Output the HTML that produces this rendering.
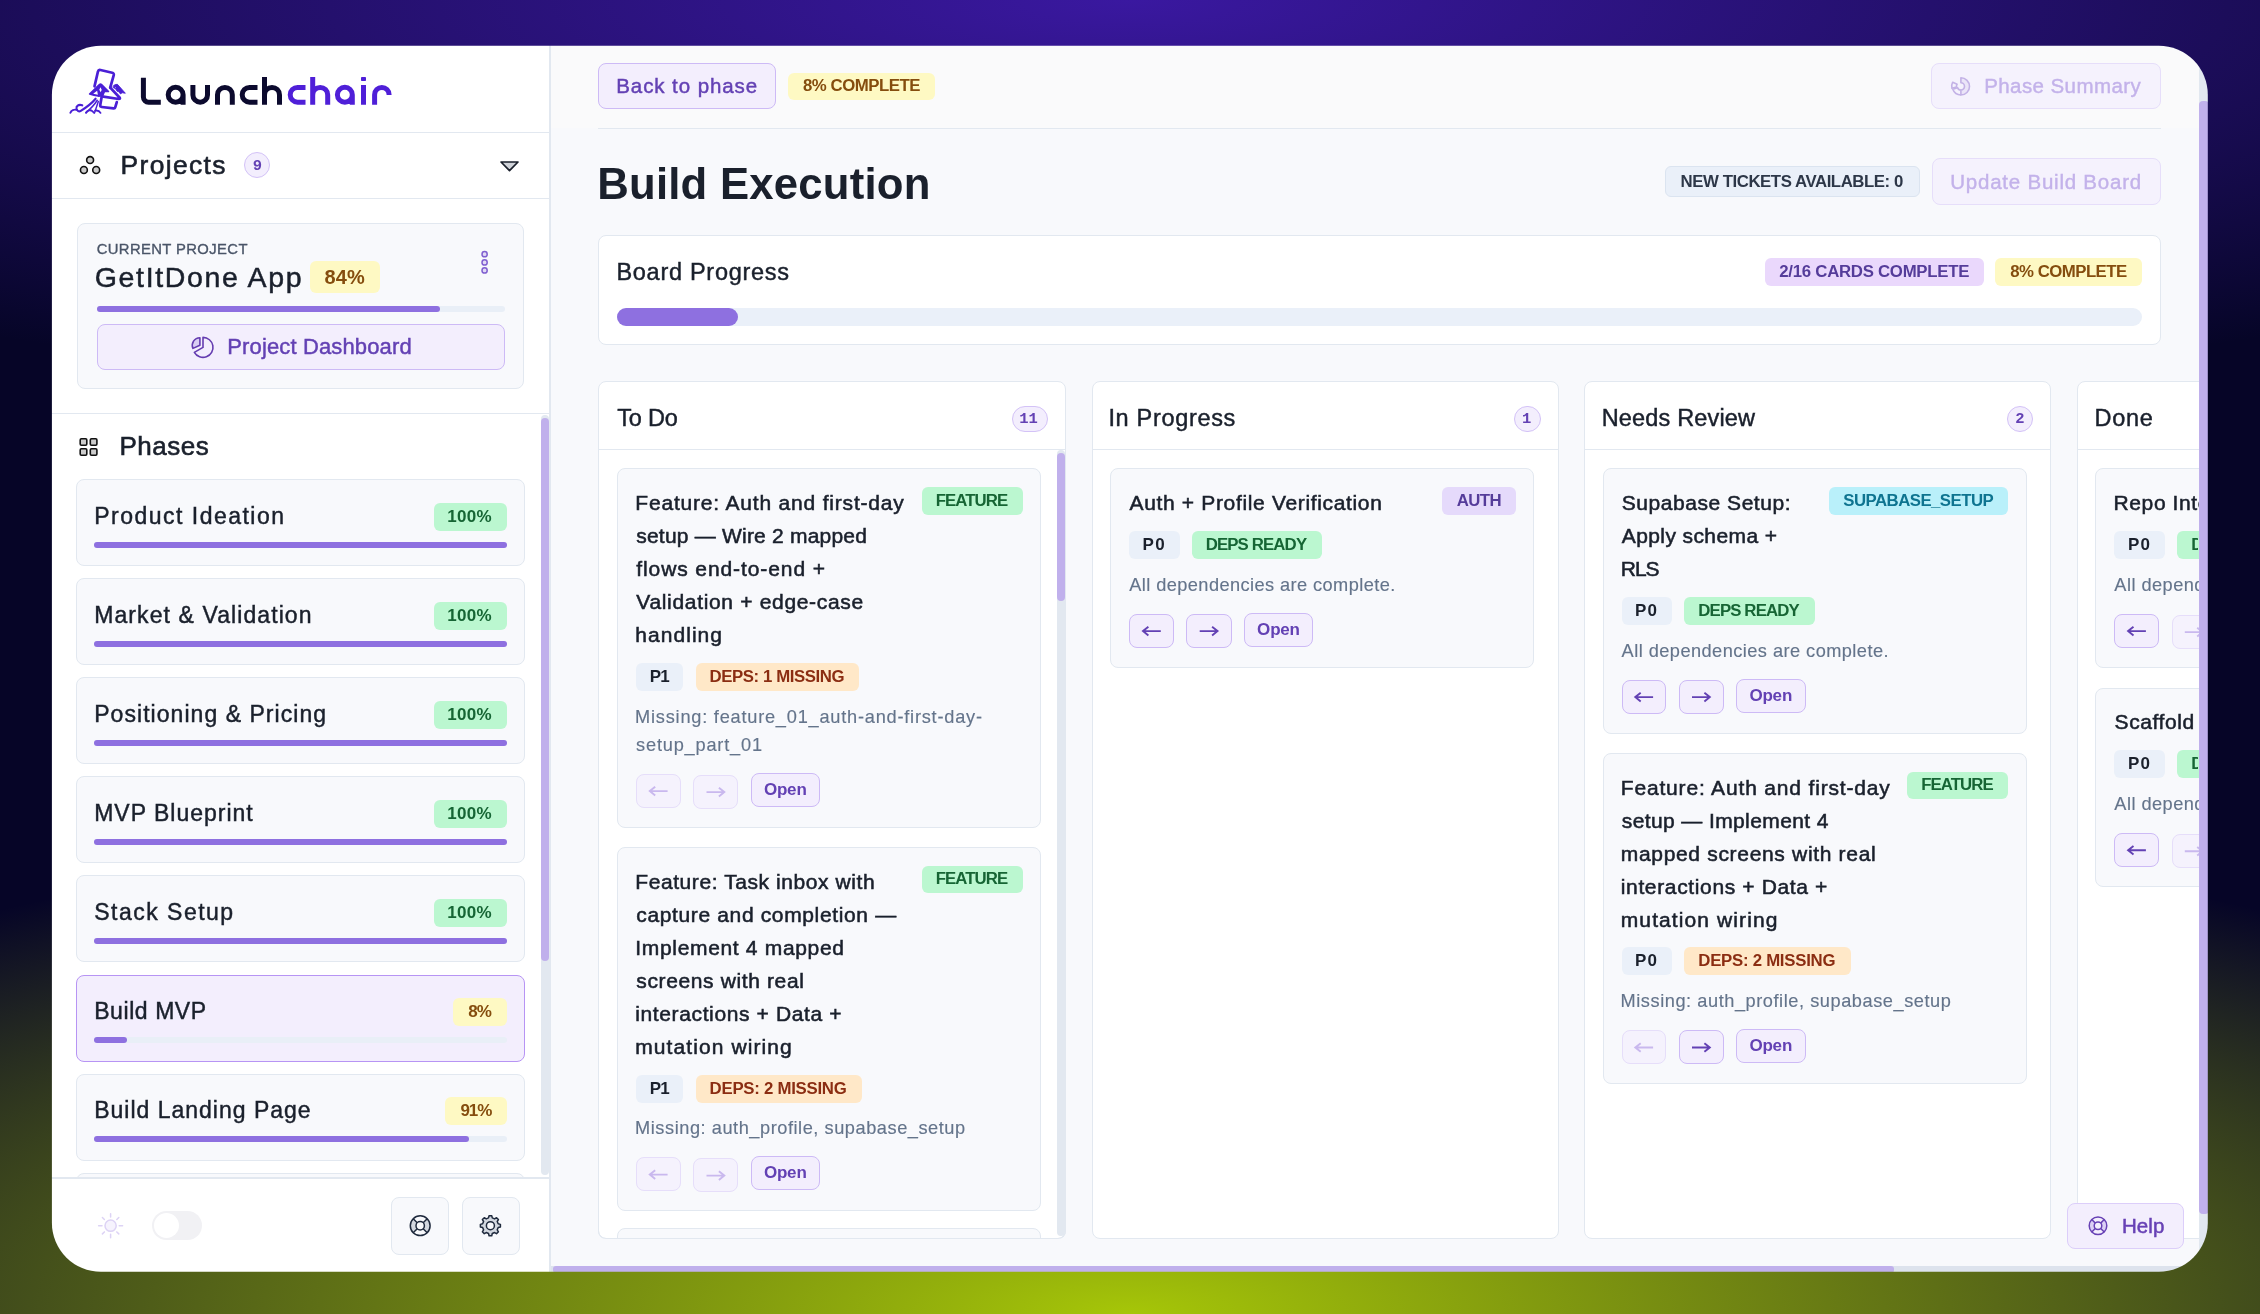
<!DOCTYPE html>
<html lang="en"><head><meta charset="utf-8"><title>Launchchair - Build Execution</title>
<style>
html,body{margin:0;padding:0;width:2260px;height:1314px;overflow:hidden}
body{position:relative;font-family:"Liberation Sans",sans-serif;background:
 radial-gradient(ellipse 1900px 420px at 50% 0%, #3a18a0 0%, rgba(58,24,160,0) 100%),
 radial-gradient(ellipse 1800px 520px at 50% 100%, #a6c608 0%, rgba(166,198,8,0) 100%),
 #060527;}
#win{will-change:transform;position:absolute;left:0;top:0;width:2260px;height:1314px;clip-path:inset(45.7px 52.2px 42.2px 51.9px round 49px);}
.b{position:absolute;box-sizing:border-box}
.t{position:absolute;white-space:nowrap;display:block}
.m{font-family:"Liberation Mono",monospace}
svg{position:absolute;overflow:visible}
</style></head><body><div id="win">
<div class="b" style="left:51.0px;top:45.0px;width:498.2px;height:1228.0px;background:#ffffff;"></div>
<div class="b" style="left:549.2px;top:45.0px;width:1.4px;height:1228.0px;background:#e2e8f0;"></div>
<div class="b" style="left:550.6px;top:45.0px;width:1658.4px;height:1228.0px;background:#f8f9fc;"></div>
<div class="b" style="left:550.6px;top:45.0px;width:1658.4px;height:82.5px;background:#fafafb;"></div>
<div class="b" style="left:51.0px;top:131.6px;width:498.2px;height:1.3px;background:#e2e8f0;"></div>
<div class="b" style="left:51.0px;top:197.9px;width:498.2px;height:1.3px;background:#e2e8f0;"></div>
<div class="b" style="left:51.0px;top:413.2px;width:498.2px;height:1.3px;background:#e2e8f0;"></div>
<div class="b" style="left:244.3px;top:152.4px;width:26.0px;height:26.0px;background:#f3eefd;border:1.3px solid #d3c2f7;border-radius:13px;"></div>
<div class="b" style="left:77.3px;top:223.4px;width:446.7px;height:165.9px;background:#f8f9fc;border:1.3px solid #e2e8f0;border-radius:8px;"></div>
<div class="b" style="left:309.5px;top:261.0px;width:70.2px;height:32.3px;background:#fef9c3;border-radius:6px;"></div>
<div class="b" style="left:96.5px;top:306.3px;width:408.5px;height:5.9px;background:#e9eff7;border-radius:3px;"></div>
<div class="b" style="left:96.5px;top:306.3px;width:343.5px;height:5.9px;background:#8e70e0;border-radius:3px;"></div>
<div class="b" style="left:96.5px;top:324.2px;width:408.5px;height:46.3px;background:#f3eefd;border:1.5px solid #cdbaf6;border-radius:8px;"></div>
<div class="b" style="left:76.0px;top:479.2px;width:449.3px;height:87.0px;background:#f8f9fc;border:1.3px solid #e2e8f0;border-radius:8px;"></div>
<div class="b" style="left:433.5px;top:503.0px;width:73.5px;height:27.6px;background:#bbf7d0;border-radius:6px;"></div>
<div class="b" style="left:94.3px;top:541.6px;width:412.7px;height:6.0px;background:#e9eff7;border-radius:3px;"></div>
<div class="b" style="left:94.3px;top:541.6px;width:412.7px;height:6.0px;background:#8e70e0;border-radius:3px;"></div>
<div class="b" style="left:76.0px;top:578.2px;width:449.3px;height:87.0px;background:#f8f9fc;border:1.3px solid #e2e8f0;border-radius:8px;"></div>
<div class="b" style="left:433.5px;top:602.0px;width:73.5px;height:27.6px;background:#bbf7d0;border-radius:6px;"></div>
<div class="b" style="left:94.3px;top:640.6px;width:412.7px;height:6.0px;background:#e9eff7;border-radius:3px;"></div>
<div class="b" style="left:94.3px;top:640.6px;width:412.7px;height:6.0px;background:#8e70e0;border-radius:3px;"></div>
<div class="b" style="left:76.0px;top:677.3px;width:449.3px;height:87.0px;background:#f8f9fc;border:1.3px solid #e2e8f0;border-radius:8px;"></div>
<div class="b" style="left:433.5px;top:701.1px;width:73.5px;height:27.6px;background:#bbf7d0;border-radius:6px;"></div>
<div class="b" style="left:94.3px;top:739.7px;width:412.7px;height:6.0px;background:#e9eff7;border-radius:3px;"></div>
<div class="b" style="left:94.3px;top:739.7px;width:412.7px;height:6.0px;background:#8e70e0;border-radius:3px;"></div>
<div class="b" style="left:76.0px;top:776.3px;width:449.3px;height:87.0px;background:#f8f9fc;border:1.3px solid #e2e8f0;border-radius:8px;"></div>
<div class="b" style="left:433.5px;top:800.1px;width:73.5px;height:27.6px;background:#bbf7d0;border-radius:6px;"></div>
<div class="b" style="left:94.3px;top:838.7px;width:412.7px;height:6.0px;background:#e9eff7;border-radius:3px;"></div>
<div class="b" style="left:94.3px;top:838.7px;width:412.7px;height:6.0px;background:#8e70e0;border-radius:3px;"></div>
<div class="b" style="left:76.0px;top:875.4px;width:449.3px;height:87.0px;background:#f8f9fc;border:1.3px solid #e2e8f0;border-radius:8px;"></div>
<div class="b" style="left:433.5px;top:899.2px;width:73.5px;height:27.6px;background:#bbf7d0;border-radius:6px;"></div>
<div class="b" style="left:94.3px;top:937.8px;width:412.7px;height:6.0px;background:#e9eff7;border-radius:3px;"></div>
<div class="b" style="left:94.3px;top:937.8px;width:412.7px;height:6.0px;background:#8e70e0;border-radius:3px;"></div>
<div class="b" style="left:76.0px;top:974.5px;width:449.3px;height:87.0px;background:#f3eefd;border:1.6px solid #b794f4;border-radius:8px;"></div>
<div class="b" style="left:453.4px;top:998.2px;width:53.6px;height:27.6px;background:#fef9c3;border-radius:6px;"></div>
<div class="b" style="left:94.3px;top:1036.9px;width:412.7px;height:6.0px;background:#e9eff7;border-radius:3px;"></div>
<div class="b" style="left:94.3px;top:1036.9px;width:33.2px;height:6.0px;background:#8e70e0;border-radius:3px;"></div>
<div class="b" style="left:76.0px;top:1073.5px;width:449.3px;height:87.0px;background:#f8f9fc;border:1.3px solid #e2e8f0;border-radius:8px;"></div>
<div class="b" style="left:445.4px;top:1097.3px;width:61.6px;height:27.6px;background:#fef9c3;border-radius:6px;"></div>
<div class="b" style="left:94.3px;top:1135.9px;width:412.7px;height:6.0px;background:#e9eff7;border-radius:3px;"></div>
<div class="b" style="left:94.3px;top:1135.9px;width:374.5px;height:6.0px;background:#8e70e0;border-radius:3px;"></div>
<div class="b" style="left:76.0px;top:1172.6px;width:449.3px;height:87.4px;background:#f8f9fc;border:1.3px solid #e2e8f0;border-radius:8px;"></div>
<div class="b" style="left:540.5px;top:414.5px;width:8.4px;height:760.0px;background:#e2e8f0;border-radius:4px;"></div>
<div class="b" style="left:540.5px;top:418.2px;width:8.4px;height:543.3px;background:#c0b0ec;border-radius:4px;"></div>
<div class="b" style="left:51.0px;top:1177.4px;width:498.2px;height:95.6px;background:#ffffff;"></div>
<div class="b" style="left:51.0px;top:1177.4px;width:498.2px;height:1.3px;background:#e2e8f0;"></div>
<div class="b" style="left:151.8px;top:1211.0px;width:49.8px;height:29.4px;background:#f1f1f4;border-radius:15px;"></div>
<div class="b" style="left:154.4px;top:1213.4px;width:24.4px;height:24.4px;background:#ffffff;border-radius:13px;"></div>
<div class="b" style="left:391.2px;top:1196.8px;width:57.8px;height:57.9px;background:#f8f9fc;border:1.3px solid #e2e8f0;border-radius:8px;"></div>
<div class="b" style="left:461.5px;top:1196.8px;width:58.2px;height:57.9px;background:#f8f9fc;border:1.3px solid #e2e8f0;border-radius:8px;"></div>
<div class="b" style="left:598.2px;top:63.3px;width:178.1px;height:46.0px;background:#f3eefd;border:1.5px solid #cdbaf6;border-radius:8px;"></div>
<div class="b" style="left:788.0px;top:72.6px;width:147.0px;height:27.4px;background:#fef9c3;border-radius:6px;"></div>
<div class="b" style="left:1930.5px;top:63.3px;width:230.4px;height:46.2px;background:#f5f2fd;border:1.5px solid #e6defa;border-radius:8px;"></div>
<div class="b" style="left:598.2px;top:127.5px;width:1562.8px;height:1.3px;background:#e2e8f0;"></div>
<div class="b" style="left:1665.0px;top:166.2px;width:254.7px;height:30.6px;background:#eaf0f9;border:1.3px solid #dbe4f0;border-radius:6px;"></div>
<div class="b" style="left:1931.8px;top:158.3px;width:229.2px;height:46.4px;background:#f5f2fd;border:1.5px solid #e6defa;border-radius:8px;"></div>
<div class="b" style="left:598.2px;top:234.8px;width:1562.7px;height:109.8px;background:#ffffff;border:1.3px solid #e2e8f0;border-radius:8px;"></div>
<div class="b" style="left:1765.2px;top:257.9px;width:218.7px;height:28.1px;background:#ead8fc;border-radius:6px;"></div>
<div class="b" style="left:1995.4px;top:257.9px;width:146.8px;height:28.1px;background:#fef9c3;border-radius:6px;"></div>
<div class="b" style="left:616.5px;top:308.4px;width:1525.2px;height:17.6px;background:#eaf0f9;border-radius:9px;"></div>
<div class="b" style="left:616.5px;top:308.4px;width:121.7px;height:17.6px;background:#8e70e0;border-radius:9px;"></div>
<div class="b" style="left:598.3px;top:381.2px;width:467.7px;height:857.8px;background:#ffffff;border:1.3px solid #e2e8f0;border-radius:8px;"></div>
<div class="b" style="left:598.3px;top:448.5px;width:467.7px;height:1.3px;background:#e2e8f0;"></div>
<div class="b" style="left:1011.5px;top:405.5px;width:36.0px;height:26.1px;background:#f3eefd;border:1.3px solid #d3c2f7;border-radius:13px;"></div>
<div class="b" style="left:1091.5px;top:381.2px;width:467.7px;height:857.8px;background:#ffffff;border:1.3px solid #e2e8f0;border-radius:8px;"></div>
<div class="b" style="left:1091.5px;top:448.5px;width:467.7px;height:1.3px;background:#e2e8f0;"></div>
<div class="b" style="left:1514.4px;top:405.5px;width:26.3px;height:26.1px;background:#f3eefd;border:1.3px solid #d3c2f7;border-radius:13px;"></div>
<div class="b" style="left:1583.8px;top:381.2px;width:467.7px;height:857.8px;background:#ffffff;border:1.3px solid #e2e8f0;border-radius:8px;"></div>
<div class="b" style="left:1583.8px;top:448.5px;width:467.7px;height:1.3px;background:#e2e8f0;"></div>
<div class="b" style="left:2006.7px;top:405.5px;width:26.3px;height:26.1px;background:#f3eefd;border:1.3px solid #d3c2f7;border-radius:13px;"></div>
<div class="b" style="left:2076.6px;top:381.2px;width:467.7px;height:857.8px;background:#ffffff;border:1.3px solid #e2e8f0;border-radius:8px;"></div>
<div class="b" style="left:2076.6px;top:448.5px;width:467.7px;height:1.3px;background:#e2e8f0;"></div>
<div class="b" style="left:2499.5px;top:405.5px;width:26.3px;height:26.1px;background:#f3eefd;border:1.3px solid #d3c2f7;border-radius:13px;"></div>
<div class="b" style="left:617.0px;top:468.4px;width:424.2px;height:359.2px;background:#f8f9fc;border:1.3px solid #e2e8f0;border-radius:8px;"></div>
<div class="b" style="left:921.8px;top:487.2px;width:101.1px;height:27.6px;background:#bbf7d0;border-radius:6px;"></div>
<div class="b" style="left:636.0px;top:663.0px;width:47.4px;height:28.0px;background:#eaf0f9;border-radius:6px;"></div>
<div class="b" style="left:695.6px;top:663.0px;width:163.9px;height:28.0px;background:#ffe8c8;border-radius:6px;"></div>
<div class="b" style="left:636.0px;top:773.5px;width:44.6px;height:34.3px;background:#f5f2fd;border:1.5px solid #e6defa;border-radius:8px;"></div>
<svg style="left:0;top:0" width="2260" height="1314"><path d="M667.6,791.1 H649.8 M655.2,786.8 L649.8,791.1 L655.2,795.4" fill="none" stroke="#c9b8ee" stroke-width="1.9" stroke-linejoin="miter" opacity="1.0"/></svg>
<div class="b" style="left:693.2px;top:774.5px;width:45.2px;height:34.3px;background:#f5f2fd;border:1.5px solid #e6defa;border-radius:8px;"></div>
<svg style="left:0;top:0" width="2260" height="1314"><path d="M706.5,792.1 H724.3 M718.9,787.8 L724.3,792.1 L718.9,796.4" fill="none" stroke="#c9b8ee" stroke-width="1.9" stroke-linejoin="miter" opacity="1.0"/></svg>
<div class="b" style="left:750.6px;top:772.5px;width:69.6px;height:34.1px;background:#f3eefd;border:1.5px solid #cdbaf6;border-radius:8px;"></div>
<div class="b" style="left:617.0px;top:846.9px;width:424.2px;height:364.2px;background:#f8f9fc;border:1.3px solid #e2e8f0;border-radius:8px;"></div>
<div class="b" style="left:921.8px;top:865.7px;width:101.1px;height:27.6px;background:#bbf7d0;border-radius:6px;"></div>
<div class="b" style="left:636.0px;top:1074.5px;width:47.4px;height:28.0px;background:#eaf0f9;border-radius:6px;"></div>
<div class="b" style="left:695.6px;top:1074.5px;width:166.0px;height:28.0px;background:#ffe8c8;border-radius:6px;"></div>
<div class="b" style="left:636.0px;top:1157.0px;width:44.6px;height:34.3px;background:#f5f2fd;border:1.5px solid #e6defa;border-radius:8px;"></div>
<svg style="left:0;top:0" width="2260" height="1314"><path d="M667.6,1174.6 H649.8 M655.2,1170.3 L649.8,1174.6 L655.2,1178.9" fill="none" stroke="#c9b8ee" stroke-width="1.9" stroke-linejoin="miter" opacity="1.0"/></svg>
<div class="b" style="left:693.2px;top:1158.0px;width:45.2px;height:34.3px;background:#f5f2fd;border:1.5px solid #e6defa;border-radius:8px;"></div>
<svg style="left:0;top:0" width="2260" height="1314"><path d="M706.5,1175.6 H724.3 M718.9,1171.3 L724.3,1175.6 L718.9,1179.9" fill="none" stroke="#c9b8ee" stroke-width="1.9" stroke-linejoin="miter" opacity="1.0"/></svg>
<div class="b" style="left:750.6px;top:1156.0px;width:69.6px;height:34.1px;background:#f3eefd;border:1.5px solid #cdbaf6;border-radius:8px;"></div>
<div class="b" style="left:617.0px;top:1228.4px;width:424.3px;height:71.6px;background:#f8f9fc;border:1.3px solid #e2e8f0;border-radius:8px;"></div>
<div class="b" style="left:598.3px;top:1237.7px;width:467.7px;height:62.3px;background:#f8f9fc;"></div>
<div class="b" style="left:598.3px;top:1220px;width:467.7px;height:19px;border:1.3px solid #e2e8f0;border-top:none;border-radius:0 0 8px 8px;"></div>
<div class="b" style="left:1056.8px;top:450.0px;width:8.2px;height:786.0px;background:#e2e8f0;border-radius:4px;"></div>
<div class="b" style="left:1056.8px;top:452.9px;width:8.2px;height:147.8px;background:#c0b0ec;border-radius:4px;"></div>
<div class="b" style="left:1110.2px;top:468.4px;width:424.2px;height:199.2px;background:#f8f9fc;border:1.3px solid #e2e8f0;border-radius:8px;"></div>
<div class="b" style="left:1441.9px;top:487.2px;width:74.2px;height:27.6px;background:#e5dafb;border-radius:6px;"></div>
<div class="b" style="left:1129.2px;top:531.0px;width:50.5px;height:28.0px;background:#eaf0f9;border-radius:6px;"></div>
<div class="b" style="left:1191.9px;top:531.0px;width:130.3px;height:28.0px;background:#bbf7d0;border-radius:6px;"></div>
<div class="b" style="left:1129.2px;top:613.5px;width:44.6px;height:34.3px;background:#f3eefd;border:1.5px solid #cdbaf6;border-radius:8px;"></div>
<svg style="left:0;top:0" width="2260" height="1314"><path d="M1160.8,631.1 H1143.0 M1148.4,626.8 L1143.0,631.1 L1148.4,635.4" fill="none" stroke="#6341b4" stroke-width="1.9" stroke-linejoin="miter" opacity="1.0"/></svg>
<div class="b" style="left:1186.4px;top:613.5px;width:45.2px;height:34.3px;background:#f3eefd;border:1.5px solid #cdbaf6;border-radius:8px;"></div>
<svg style="left:0;top:0" width="2260" height="1314"><path d="M1199.7,631.1 H1217.5 M1212.1,626.8 L1217.5,631.1 L1212.1,635.4" fill="none" stroke="#6341b4" stroke-width="1.9" stroke-linejoin="miter" opacity="1.0"/></svg>
<div class="b" style="left:1243.8px;top:612.5px;width:69.6px;height:34.1px;background:#f3eefd;border:1.5px solid #cdbaf6;border-radius:8px;"></div>
<div class="b" style="left:1602.5px;top:468.4px;width:424.2px;height:265.2px;background:#f8f9fc;border:1.3px solid #e2e8f0;border-radius:8px;"></div>
<div class="b" style="left:1828.6px;top:487.2px;width:179.8px;height:27.6px;background:#b9f0fa;border-radius:6px;"></div>
<div class="b" style="left:1621.5px;top:597.0px;width:50.5px;height:28.0px;background:#eaf0f9;border-radius:6px;"></div>
<div class="b" style="left:1684.2px;top:597.0px;width:130.7px;height:28.0px;background:#bbf7d0;border-radius:6px;"></div>
<div class="b" style="left:1621.5px;top:679.5px;width:44.6px;height:34.3px;background:#f3eefd;border:1.5px solid #cdbaf6;border-radius:8px;"></div>
<svg style="left:0;top:0" width="2260" height="1314"><path d="M1653.1,697.1 H1635.3 M1640.7,692.8 L1635.3,697.1 L1640.7,701.4" fill="none" stroke="#6341b4" stroke-width="1.9" stroke-linejoin="miter" opacity="1.0"/></svg>
<div class="b" style="left:1678.7px;top:679.5px;width:45.2px;height:34.3px;background:#f3eefd;border:1.5px solid #cdbaf6;border-radius:8px;"></div>
<svg style="left:0;top:0" width="2260" height="1314"><path d="M1692.0,697.1 H1709.8 M1704.4,692.8 L1709.8,697.1 L1704.4,701.4" fill="none" stroke="#6341b4" stroke-width="1.9" stroke-linejoin="miter" opacity="1.0"/></svg>
<div class="b" style="left:1736.1px;top:678.5px;width:69.6px;height:34.1px;background:#f3eefd;border:1.5px solid #cdbaf6;border-radius:8px;"></div>
<div class="b" style="left:1602.5px;top:752.8px;width:424.2px;height:331.2px;background:#f8f9fc;border:1.3px solid #e2e8f0;border-radius:8px;"></div>
<div class="b" style="left:1907.3px;top:771.6px;width:101.1px;height:27.6px;background:#bbf7d0;border-radius:6px;"></div>
<div class="b" style="left:1621.5px;top:947.4px;width:50.5px;height:28.0px;background:#eaf0f9;border-radius:6px;"></div>
<div class="b" style="left:1684.2px;top:947.4px;width:166.7px;height:28.0px;background:#ffe8c8;border-radius:6px;"></div>
<div class="b" style="left:1621.5px;top:1029.9px;width:44.6px;height:34.3px;background:#f5f2fd;border:1.5px solid #e6defa;border-radius:8px;"></div>
<svg style="left:0;top:0" width="2260" height="1314"><path d="M1653.1,1047.5 H1635.3 M1640.7,1043.2 L1635.3,1047.5 L1640.7,1051.8" fill="none" stroke="#c9b8ee" stroke-width="1.9" stroke-linejoin="miter" opacity="1.0"/></svg>
<div class="b" style="left:1678.7px;top:1029.9px;width:45.2px;height:34.3px;background:#f3eefd;border:1.5px solid #cdbaf6;border-radius:8px;"></div>
<svg style="left:0;top:0" width="2260" height="1314"><path d="M1692.0,1047.5 H1709.8 M1704.4,1043.2 L1709.8,1047.5 L1704.4,1051.8" fill="none" stroke="#6341b4" stroke-width="1.9" stroke-linejoin="miter" opacity="1.0"/></svg>
<div class="b" style="left:1736.1px;top:1028.9px;width:69.6px;height:34.1px;background:#f3eefd;border:1.5px solid #cdbaf6;border-radius:8px;"></div>
<div class="b" style="left:2095.3px;top:468.4px;width:424.2px;height:199.2px;background:#f8f9fc;border:1.3px solid #e2e8f0;border-radius:8px;"></div>
<div class="b" style="left:2114.3px;top:531.0px;width:50.5px;height:28.0px;background:#eaf0f9;border-radius:6px;"></div>
<div class="b" style="left:2177.0px;top:531.0px;width:130.5px;height:28.0px;background:#bbf7d0;border-radius:6px;"></div>
<div class="b" style="left:2114.3px;top:613.5px;width:44.6px;height:34.3px;background:#f3eefd;border:1.5px solid #cdbaf6;border-radius:8px;"></div>
<svg style="left:0;top:0" width="2260" height="1314"><path d="M2145.9,631.1 H2128.1 M2133.5,626.8 L2128.1,631.1 L2133.5,635.4" fill="none" stroke="#6341b4" stroke-width="1.9" stroke-linejoin="miter" opacity="1.0"/></svg>
<div class="b" style="left:2171.5px;top:614.5px;width:45.2px;height:34.3px;background:#f5f2fd;border:1.5px solid #e6defa;border-radius:8px;"></div>
<svg style="left:0;top:0" width="2260" height="1314"><path d="M2184.8,632.1 H2202.6 M2197.2,627.8 L2202.6,632.1 L2197.2,636.4" fill="none" stroke="#c9b8ee" stroke-width="1.9" stroke-linejoin="miter" opacity="1.0"/></svg>
<div class="b" style="left:2228.9px;top:612.5px;width:69.6px;height:34.1px;background:#f3eefd;border:1.5px solid #cdbaf6;border-radius:8px;"></div>
<div class="b" style="left:2095.3px;top:687.6px;width:424.2px;height:199.2px;background:#f8f9fc;border:1.3px solid #e2e8f0;border-radius:8px;"></div>
<div class="b" style="left:2114.3px;top:750.2px;width:50.5px;height:28.0px;background:#eaf0f9;border-radius:6px;"></div>
<div class="b" style="left:2177.0px;top:750.2px;width:130.5px;height:28.0px;background:#bbf7d0;border-radius:6px;"></div>
<div class="b" style="left:2114.3px;top:832.7px;width:44.6px;height:34.3px;background:#f3eefd;border:1.5px solid #cdbaf6;border-radius:8px;"></div>
<svg style="left:0;top:0" width="2260" height="1314"><path d="M2145.9,850.3 H2128.1 M2133.5,846.0 L2128.1,850.3 L2133.5,854.6" fill="none" stroke="#6341b4" stroke-width="1.9" stroke-linejoin="miter" opacity="1.0"/></svg>
<div class="b" style="left:2171.5px;top:833.7px;width:45.2px;height:34.3px;background:#f5f2fd;border:1.5px solid #e6defa;border-radius:8px;"></div>
<svg style="left:0;top:0" width="2260" height="1314"><path d="M2184.8,851.3 H2202.6 M2197.2,847.0 L2202.6,851.3 L2197.2,855.6" fill="none" stroke="#c9b8ee" stroke-width="1.9" stroke-linejoin="miter" opacity="1.0"/></svg>
<div class="b" style="left:2228.9px;top:831.7px;width:69.6px;height:34.1px;background:#f3eefd;border:1.5px solid #cdbaf6;border-radius:8px;"></div>
<div class="b" style="left:2067.4px;top:1202.6px;width:117.0px;height:46.2px;background:#f3eefd;border:1.5px solid #dccefa;border-radius:8px;"></div>
<svg style="left:0;top:0" width="2260" height="1314" viewBox="0 0 2260 1314"><g transform="translate(62,60) scale(0.048721)" fill="none" stroke="#4a1fd6" stroke-linejoin="round" stroke-linecap="round"><path d="M668,540 L738,235 Q748,195 790,205 L1030,262 Q1072,272 1062,312 L990,568" stroke-width="56"/><path d="M990,568 L1185,775 Q1200,800 1165,800 L815,748" stroke-width="56"/><path d="M812,770 L785,925 Q780,960 815,965 L1060,995 Q1085,998 1092,972 L1125,865" stroke-width="56"/><path d="M565,698 L772,498 Q790,485 808,500 L955,648 L875,640 L835,735 L745,742 L655,722 Z" fill="#4a1fd6" stroke-width="30"/><path d="M790,560 L815,610 L795,660 L765,610 Z" fill="#ffffff" stroke="none"/><path d="M640,694 L722,632 L736,712 Z" fill="#ffffff" stroke="none"/><path d="M1062,522 Q1100,492 1138,500 L1300,682 L1235,672 L1200,696 L1168,652 L1132,642 L1098,588 L1052,566 Z" fill="#4a1fd6" stroke-width="18"/><path d="M1082,548 L1102,560 L1092,574 Z" fill="#ffffff" stroke="none"/><path d="M690,795 C610,890 480,985 385,1045 C345,1070 315,1045 300,1000 C285,950 335,905 415,930" stroke-width="44"/><path d="M722,830 C660,930 570,1015 495,1080" stroke-width="34"/><path d="M745,850 C715,940 690,1020 668,1085" stroke-width="30"/><path d="M172,1082 C190,1030 250,1010 300,1022" stroke-width="40"/><path d="M492,1082 C520,1030 590,1018 622,1050 L660,1085 M680,1040 C730,1030 770,1050 790,1085" stroke-width="38"/></g><path d="M143.4,77.8 V97.0 A5.2,5.2 0 0 0 148.6,102.2 H160.8 M168.20,94.8 A7.45,7.45 0 1 1 183.10,94.8 A7.45,7.45 0 1 1 168.20,94.8 Z M183.10,94.8 V104.7 M192.90,84.9 V94.90 A7.3,7.3 0 0 0 207.50,94.90 V84.9 M217.50,104.7 V94.80 A7.4,7.4 0 0 1 232.30,94.80 V104.7 M257.50,87.4 H249.60 A7.4,7.4 0 0 0 249.60,102.2 H257.50 M264.50,77.1 V104.7 M264.50,94.90 A7.5,7.5 0 0 1 279.50,94.90 V104.7" fill="none" stroke="#0c0a2e" stroke-width="5" stroke-linejoin="round"/><path d="M305.50,87.4 H297.60 A7.4,7.4 0 0 0 297.60,102.2 H305.50 M312.70,77.1 V104.7 M312.70,94.90 A7.5,7.5 0 0 1 327.70,94.90 V104.7 M337.40,94.8 A7.45,7.45 0 1 1 352.30,94.8 A7.45,7.45 0 1 1 337.40,94.8 Z M352.30,94.8 V104.7 M363.50,84.9 V104.7 M374.60,104.7 V94.65 A7.25,7.25 0 0 1 389.10,94.65 V95.0" fill="none" stroke="#4f1fd8" stroke-width="5" stroke-linejoin="round"/><rect x="361" y="76.9" width="5" height="4.2" rx="0.8" fill="#4f1fd8"/><circle cx="90.1" cy="160.1" r="3.45" fill="#cccccc" stroke="#111111" stroke-width="1.6"/><circle cx="83.9" cy="170.0" r="3.45" fill="#cccccc" stroke="#111111" stroke-width="1.6"/><circle cx="96.2" cy="170.0" r="3.45" fill="#cccccc" stroke="#111111" stroke-width="1.6"/><path d="M501.0,162.0 H518.0 L509.5,170.6 Z" fill="#d0d3d9" stroke="#1a202c" stroke-width="1.7" stroke-linejoin="round"/><circle cx="484.6" cy="254.2" r="2.6" fill="#e2daf5" stroke="#8060d0" stroke-width="1.5"/><circle cx="484.6" cy="262.4" r="2.6" fill="#e2daf5" stroke="#8060d0" stroke-width="1.5"/><circle cx="484.6" cy="270.4" r="2.6" fill="#e2daf5" stroke="#8060d0" stroke-width="1.5"/><path d="M203.00,347.40 L203.00,337.40 A10.0,10.0 0 1 1 194.34,352.40 Z" fill="none" stroke="#643cb0" stroke-width="1.6" stroke-linejoin="round"/><path d="M199.90,345.30 L192.96,348.39 A7.6,7.6 0 0 1 199.90,337.70 Z" fill="#d9cdf3" stroke="#643cb0" stroke-width="1.6" stroke-linejoin="round"/><rect x="80.2" y="438.8" width="6.6" height="6.4" rx="1.2" fill="#cccccc" stroke="#111111" stroke-width="1.6"/><rect x="90.3" y="438.8" width="6.6" height="6.4" rx="1.2" fill="#cccccc" stroke="#111111" stroke-width="1.6"/><rect x="80.2" y="448.8" width="6.6" height="6.4" rx="1.2" fill="#cccccc" stroke="#111111" stroke-width="1.6"/><rect x="90.3" y="448.8" width="6.6" height="6.4" rx="1.2" fill="#cccccc" stroke="#111111" stroke-width="1.6"/><circle cx="110.6" cy="1225.7" r="5.6" fill="#f6f3fd" stroke="#ddd3f5" stroke-width="1.5"/>
<path d="M119.20,1225.70 L122.60,1225.70 M116.82,1231.92 L118.80,1233.90 M110.60,1234.30 L110.60,1237.70 M104.38,1231.92 L102.40,1233.90 M102.00,1225.70 L98.60,1225.70 M104.38,1219.48 L102.40,1217.50 M110.60,1217.10 L110.60,1213.70 M116.82,1219.48 L118.80,1217.50 " fill="none" stroke="#ddd3f5" stroke-width="1.5" stroke-linecap="round"/><path d="M427.20,1218.70 A9.9,9.9 0 0 1 427.20,1232.70 L423.17,1228.67 A4.2,4.2 0 0 0 423.17,1222.73 Z M413.20,1232.70 A9.9,9.9 0 0 1 413.20,1218.70 L417.23,1222.73 A4.2,4.2 0 0 0 417.23,1228.67 Z" fill="#d3d8e0" stroke="none"/>
<circle cx="420.2" cy="1225.7" r="9.9" fill="none" stroke="#1f2a3d" stroke-width="1.5"/>
<circle cx="420.2" cy="1225.7" r="4.2" fill="none" stroke="#1f2a3d" stroke-width="1.5"/>
<path d="M423.17,1228.67 L427.20,1232.70 M423.17,1222.73 L427.20,1218.70 M417.23,1228.67 L413.20,1232.70 M417.23,1222.73 L413.20,1218.70 " fill="none" stroke="#1f2a3d" stroke-width="1.5"/><path d="M488.53,1217.92 L489.06,1215.69 L491.74,1215.69 L492.27,1217.92 L494.58,1218.88 L496.53,1217.67 L498.43,1219.57 L497.22,1221.52 L498.18,1223.83 L500.41,1224.36 L500.41,1227.04 L498.18,1227.57 L497.22,1229.88 L498.43,1231.83 L496.53,1233.73 L494.58,1232.52 L492.27,1233.48 L491.74,1235.71 L489.06,1235.71 L488.53,1233.48 L486.22,1232.52 L484.27,1233.73 L482.37,1231.83 L483.58,1229.88 L482.62,1227.57 L480.39,1227.04 L480.39,1224.36 L482.62,1223.83 L483.58,1221.52 L482.37,1219.57 L484.27,1217.67 L486.22,1218.88 Z" fill="#d3d8e0" stroke="#1f2a3d" stroke-width="1.5" stroke-linejoin="round"/><circle cx="490.4" cy="1225.7" r="4.0" fill="#f8f9fc" stroke="#1f2a3d" stroke-width="1.5"/><path d="M1960.90,82.80 L1960.90,77.80 A8.6,8.6 0 0 1 1960.90,95.00 L1960.90,90.00 A3.6,3.6 0 0 0 1960.90,82.80 Z" fill="#ebe5f8" stroke="#c3b2e6" stroke-width="1.6" stroke-linejoin="round"/><path d="M1960.90,95.00 A8.6,8.6 0 0 1 1952.82,89.34 L1957.52,87.63 A3.6,3.6 0 0 0 1960.90,90.00" fill="none" stroke="#c3b2e6" stroke-width="1.6" stroke-linejoin="round"/><path d="M1951.90,88.31 A8.6,8.6 0 0 1 1952.70,82.22 L1957.09,84.20 A3.6,3.6 0 0 0 1956.54,87.01 Z" fill="none" stroke="#c3b2e6" stroke-width="1.6" stroke-linejoin="round"/><path d="M2104.22,1219.58 A8.8,8.8 0 0 1 2104.22,1232.02 L2100.69,1228.49 A3.8,3.8 0 0 0 2100.69,1223.11 Z M2091.78,1232.02 A8.8,8.8 0 0 1 2091.78,1219.58 L2095.31,1223.11 A3.8,3.8 0 0 0 2095.31,1228.49 Z" fill="#dcd0f5" stroke="none"/>
<circle cx="2098.0" cy="1225.8" r="8.8" fill="none" stroke="#6741b5" stroke-width="1.5"/>
<circle cx="2098.0" cy="1225.8" r="3.8" fill="none" stroke="#6741b5" stroke-width="1.5"/>
<path d="M2100.69,1228.49 L2104.22,1232.02 M2100.69,1223.11 L2104.22,1219.58 M2095.31,1228.49 L2091.78,1232.02 M2095.31,1223.11 L2091.78,1219.58 " fill="none" stroke="#6741b5" stroke-width="1.5"/></svg>
<div class="b" style="left:2199.3px;top:40.0px;width:9.7px;height:1233.0px;background:#e2e8f0;"></div>
<div class="b" style="left:2199.3px;top:101.3px;width:9.7px;height:1112.7px;background:#c0b0ec;border-radius:4px;"></div>
<div class="b" style="left:550.6px;top:1266.3px;width:1648.7px;height:6.7px;background:#dde3ed;"></div>
<div class="b" style="left:553.4px;top:1266.3px;width:1340.6px;height:6.7px;background:#c0b0ec;border-radius:3px;"></div>
<span class="t" style="left:120.60px;top:148.85px;font-size:26.4px;line-height:32px;font-weight:400;color:#1a202c;letter-spacing:1.350px;-webkit-text-stroke:0.6px #1a202c;">Projects</span>
<span class="t m" style="left:252.80px;top:157.37px;font-size:15.5px;line-height:19px;font-weight:700;color:#6341b4;">9</span>
<span class="t" style="left:96.67px;top:240.37px;font-size:14.8px;line-height:18px;font-weight:400;color:#4a5568;letter-spacing:0.396px;-webkit-text-stroke:0.35px #4a5568;">CURRENT PROJECT</span>
<span class="t" style="left:94.75px;top:259.72px;font-size:28.5px;line-height:34px;font-weight:400;color:#1a202c;letter-spacing:1.657px;-webkit-text-stroke:0.5px #1a202c;">GetItDone App</span>
<span class="t" style="left:324.40px;top:264.87px;font-size:20px;line-height:24px;font-weight:700;color:#854d0e;letter-spacing:0.176px;">84%</span>
<span class="t" style="left:227.22px;top:333.98px;font-size:22px;line-height:26px;font-weight:400;color:#6341b4;letter-spacing:0.142px;-webkit-text-stroke:0.45px #6341b4;">Project Dashboard</span>
<span class="t" style="left:119.50px;top:430.89px;font-size:26.0px;line-height:31px;font-weight:400;color:#1a202c;letter-spacing:0.493px;-webkit-text-stroke:0.6px #1a202c;">Phases</span>
<span class="t" style="left:94.22px;top:502.03px;font-size:23.0px;line-height:28px;font-weight:400;color:#1a202c;letter-spacing:1.488px;-webkit-text-stroke:0.45px #1a202c;">Product Ideation</span>
<span class="t" style="left:447.30px;top:506.91px;font-size:17px;line-height:20px;font-weight:700;color:#166534;letter-spacing:0.244px;">100%</span>
<span class="t" style="left:94.22px;top:601.08px;font-size:23.0px;line-height:28px;font-weight:400;color:#1a202c;letter-spacing:1.089px;-webkit-text-stroke:0.45px #1a202c;">Market &amp; Validation</span>
<span class="t" style="left:447.30px;top:605.96px;font-size:17px;line-height:20px;font-weight:700;color:#166534;letter-spacing:0.244px;">100%</span>
<span class="t" style="left:94.22px;top:700.13px;font-size:23.0px;line-height:28px;font-weight:400;color:#1a202c;letter-spacing:1.044px;-webkit-text-stroke:0.45px #1a202c;">Positioning &amp; Pricing</span>
<span class="t" style="left:447.30px;top:705.01px;font-size:17px;line-height:20px;font-weight:700;color:#166534;letter-spacing:0.244px;">100%</span>
<span class="t" style="left:94.22px;top:799.18px;font-size:23.0px;line-height:28px;font-weight:400;color:#1a202c;letter-spacing:0.996px;-webkit-text-stroke:0.45px #1a202c;">MVP Blueprint</span>
<span class="t" style="left:447.30px;top:804.06px;font-size:17px;line-height:20px;font-weight:700;color:#166534;letter-spacing:0.244px;">100%</span>
<span class="t" style="left:94.22px;top:898.23px;font-size:23.0px;line-height:28px;font-weight:400;color:#1a202c;letter-spacing:1.491px;-webkit-text-stroke:0.45px #1a202c;">Stack Setup</span>
<span class="t" style="left:447.30px;top:903.11px;font-size:17px;line-height:20px;font-weight:700;color:#166534;letter-spacing:0.244px;">100%</span>
<span class="t" style="left:94.22px;top:997.28px;font-size:23.0px;line-height:28px;font-weight:400;color:#1a202c;letter-spacing:0.564px;-webkit-text-stroke:0.45px #1a202c;">Build MVP</span>
<span class="t" style="left:468.20px;top:1002.16px;font-size:17px;line-height:20px;font-weight:700;color:#854d0e;letter-spacing:-1.000px;">8%</span>
<span class="t" style="left:94.22px;top:1096.33px;font-size:23.0px;line-height:28px;font-weight:400;color:#1a202c;letter-spacing:0.991px;-webkit-text-stroke:0.45px #1a202c;">Build Landing Page</span>
<span class="t" style="left:460.40px;top:1101.21px;font-size:17px;line-height:20px;font-weight:700;color:#854d0e;letter-spacing:-1.000px;">91%</span>
<span class="t" style="left:616.23px;top:73.10px;font-size:20.5px;line-height:25px;font-weight:400;color:#6341b4;letter-spacing:0.919px;-webkit-text-stroke:0.45px #6341b4;">Back to phase</span>
<span class="t" style="left:803.00px;top:76.18px;font-size:16.8px;line-height:20px;font-weight:700;color:#854d0e;letter-spacing:-0.466px;">8% COMPLETE</span>
<span class="t" style="left:1984.20px;top:73.10px;font-size:20.5px;line-height:25px;font-weight:400;color:#c3b2ea;letter-spacing:0.418px;-webkit-text-stroke:0.4px #c3b2ea;">Phase Summary</span>
<span class="t" style="left:597.20px;top:158.16px;font-size:43.7px;line-height:52px;font-weight:700;color:#1a202c;letter-spacing:0.226px;">Build Execution</span>
<span class="t" style="left:1680.60px;top:171.78px;font-size:16.8px;line-height:20px;font-weight:700;color:#2d3748;letter-spacing:-0.436px;">NEW TICKETS AVAILABLE: 0</span>
<span class="t" style="left:1950.20px;top:168.60px;font-size:20.5px;line-height:25px;font-weight:400;color:#c3b2ea;letter-spacing:0.777px;-webkit-text-stroke:0.4px #c3b2ea;">Update Build Board</span>
<span class="t" style="left:616.43px;top:257.86px;font-size:23.5px;line-height:28px;font-weight:400;color:#1a202c;letter-spacing:0.717px;-webkit-text-stroke:0.45px #1a202c;">Board Progress</span>
<span class="t" style="left:1779.30px;top:261.78px;font-size:16.8px;line-height:20px;font-weight:700;color:#553c9a;letter-spacing:-0.267px;">2/16 CARDS COMPLETE</span>
<span class="t" style="left:2010.30px;top:261.78px;font-size:16.8px;line-height:20px;font-weight:700;color:#854d0e;letter-spacing:-0.526px;">8% COMPLETE</span>
<span class="t" style="left:617.23px;top:403.76px;font-size:23.5px;line-height:28px;font-weight:400;color:#1a202c;letter-spacing:-0.193px;-webkit-text-stroke:0.45px #1a202c;">To Do</span>
<span class="t m" style="left:1019.30px;top:410.37px;font-size:15.5px;line-height:19px;font-weight:700;color:#6341b4;">11</span>
<span class="t" style="left:1108.42px;top:403.76px;font-size:23.5px;line-height:28px;font-weight:400;color:#1a202c;letter-spacing:0.673px;-webkit-text-stroke:0.45px #1a202c;">In Progress</span>
<span class="t m" style="left:1521.95px;top:410.37px;font-size:15.5px;line-height:19px;font-weight:700;color:#6341b4;">1</span>
<span class="t" style="left:1601.72px;top:403.76px;font-size:23.5px;line-height:28px;font-weight:400;color:#1a202c;letter-spacing:0.164px;-webkit-text-stroke:0.45px #1a202c;">Needs Review</span>
<span class="t m" style="left:2015.25px;top:410.37px;font-size:15.5px;line-height:19px;font-weight:700;color:#6341b4;">2</span>
<span class="t" style="left:2094.52px;top:403.76px;font-size:23.5px;line-height:28px;font-weight:400;color:#1a202c;letter-spacing:0.677px;-webkit-text-stroke:0.45px #1a202c;">Done</span>
<span class="t m" style="left:2508.05px;top:410.37px;font-size:15.5px;line-height:19px;font-weight:700;color:#6341b4;">8</span>
<span class="t" style="left:635.27px;top:490.22px;font-size:21px;line-height:25px;font-weight:400;color:#1a202c;letter-spacing:0.811px;-webkit-text-stroke:0.55px #1a202c;">Feature: Auth and first-day</span>
<span class="t" style="left:636.27px;top:523.22px;font-size:21px;line-height:25px;font-weight:400;color:#1a202c;letter-spacing:0.210px;-webkit-text-stroke:0.55px #1a202c;">setup — Wire 2 mapped</span>
<span class="t" style="left:636.27px;top:556.22px;font-size:21px;line-height:25px;font-weight:400;color:#1a202c;letter-spacing:0.903px;-webkit-text-stroke:0.55px #1a202c;">flows end-to-end +</span>
<span class="t" style="left:636.27px;top:589.22px;font-size:21px;line-height:25px;font-weight:400;color:#1a202c;letter-spacing:0.678px;-webkit-text-stroke:0.55px #1a202c;">Validation + edge-case</span>
<span class="t" style="left:635.27px;top:622.22px;font-size:21px;line-height:25px;font-weight:400;color:#1a202c;letter-spacing:1.046px;-webkit-text-stroke:0.55px #1a202c;">handling</span>
<span class="t" style="left:935.70px;top:490.78px;font-size:16.8px;line-height:20px;font-weight:700;color:#166534;letter-spacing:-0.918px;">FEATURE</span>
<span class="t" style="left:649.80px;top:667.01px;font-size:17px;line-height:20px;font-weight:700;color:#1a202c;letter-spacing:-1.000px;">P1</span>
<span class="t" style="left:709.60px;top:667.08px;font-size:16.8px;line-height:20px;font-weight:700;color:#8b2d12;letter-spacing:-0.426px;">DEPS: 1 MISSING</span>
<span class="t" style="left:635.08px;top:705.69px;font-size:18.2px;line-height:22px;font-weight:400;color:#64748b;letter-spacing:0.776px;-webkit-text-stroke:0.15px #64748b;">Missing: feature_01_auth-and-first-day-</span>
<span class="t" style="left:636.08px;top:733.69px;font-size:18.2px;line-height:22px;font-weight:400;color:#64748b;letter-spacing:0.806px;-webkit-text-stroke:0.15px #64748b;">setup_part_01</span>
<span class="t" style="left:763.90px;top:779.81px;font-size:17.0px;line-height:20px;font-weight:700;color:#6341b4;letter-spacing:-0.190px;">Open</span>
<span class="t" style="left:635.27px;top:868.72px;font-size:21px;line-height:25px;font-weight:400;color:#1a202c;letter-spacing:0.581px;-webkit-text-stroke:0.55px #1a202c;">Feature: Task inbox with</span>
<span class="t" style="left:636.27px;top:901.72px;font-size:21px;line-height:25px;font-weight:400;color:#1a202c;letter-spacing:0.640px;-webkit-text-stroke:0.55px #1a202c;">capture and completion —</span>
<span class="t" style="left:635.27px;top:934.72px;font-size:21px;line-height:25px;font-weight:400;color:#1a202c;letter-spacing:0.673px;-webkit-text-stroke:0.55px #1a202c;">Implement 4 mapped</span>
<span class="t" style="left:636.27px;top:967.72px;font-size:21px;line-height:25px;font-weight:400;color:#1a202c;letter-spacing:0.628px;-webkit-text-stroke:0.55px #1a202c;">screens with real</span>
<span class="t" style="left:635.27px;top:1000.72px;font-size:21px;line-height:25px;font-weight:400;color:#1a202c;letter-spacing:0.622px;-webkit-text-stroke:0.55px #1a202c;">interactions + Data +</span>
<span class="t" style="left:635.27px;top:1033.72px;font-size:21px;line-height:25px;font-weight:400;color:#1a202c;letter-spacing:1.085px;-webkit-text-stroke:0.55px #1a202c;">mutation wiring</span>
<span class="t" style="left:935.70px;top:869.28px;font-size:16.8px;line-height:20px;font-weight:700;color:#166534;letter-spacing:-0.918px;">FEATURE</span>
<span class="t" style="left:649.80px;top:1078.51px;font-size:17px;line-height:20px;font-weight:700;color:#1a202c;letter-spacing:-1.000px;">P1</span>
<span class="t" style="left:709.60px;top:1078.58px;font-size:16.8px;line-height:20px;font-weight:700;color:#8b2d12;letter-spacing:-0.261px;">DEPS: 2 MISSING</span>
<span class="t" style="left:635.08px;top:1117.19px;font-size:18.2px;line-height:22px;font-weight:400;color:#64748b;letter-spacing:0.546px;-webkit-text-stroke:0.15px #64748b;">Missing: auth_profile, supabase_setup</span>
<span class="t" style="left:763.90px;top:1163.31px;font-size:17.0px;line-height:20px;font-weight:700;color:#6341b4;letter-spacing:-0.190px;">Open</span>
<span class="t" style="left:1129.48px;top:490.22px;font-size:21px;line-height:25px;font-weight:400;color:#1a202c;letter-spacing:0.662px;-webkit-text-stroke:0.55px #1a202c;">Auth + Profile Verification</span>
<span class="t" style="left:1456.70px;top:490.78px;font-size:16.8px;line-height:20px;font-weight:700;color:#553c9a;letter-spacing:-0.563px;">AUTH</span>
<span class="t" style="left:1142.60px;top:535.01px;font-size:17px;line-height:20px;font-weight:700;color:#1a202c;letter-spacing:1.258px;">P0</span>
<span class="t" style="left:1205.70px;top:535.08px;font-size:16.8px;line-height:20px;font-weight:700;color:#166534;letter-spacing:-0.857px;">DEPS READY</span>
<span class="t" style="left:1129.28px;top:573.69px;font-size:18.2px;line-height:22px;font-weight:400;color:#64748b;letter-spacing:0.421px;-webkit-text-stroke:0.15px #64748b;">All dependencies are complete.</span>
<span class="t" style="left:1257.10px;top:619.81px;font-size:17.0px;line-height:20px;font-weight:700;color:#6341b4;letter-spacing:-0.190px;">Open</span>
<span class="t" style="left:1621.78px;top:490.22px;font-size:21px;line-height:25px;font-weight:400;color:#1a202c;letter-spacing:0.546px;-webkit-text-stroke:0.55px #1a202c;">Supabase Setup:</span>
<span class="t" style="left:1621.78px;top:523.22px;font-size:21px;line-height:25px;font-weight:400;color:#1a202c;letter-spacing:0.401px;-webkit-text-stroke:0.55px #1a202c;">Apply schema +</span>
<span class="t" style="left:1620.78px;top:556.22px;font-size:21px;line-height:25px;font-weight:400;color:#1a202c;letter-spacing:-1.000px;-webkit-text-stroke:0.55px #1a202c;">RLS</span>
<span class="t" style="left:1843.30px;top:490.78px;font-size:16.8px;line-height:20px;font-weight:700;color:#0e7490;letter-spacing:-0.531px;">SUPABASE_SETUP</span>
<span class="t" style="left:1635.00px;top:601.01px;font-size:17px;line-height:20px;font-weight:700;color:#1a202c;letter-spacing:1.258px;">P0</span>
<span class="t" style="left:1698.30px;top:601.08px;font-size:16.8px;line-height:20px;font-weight:700;color:#166534;letter-spacing:-0.857px;">DEPS READY</span>
<span class="t" style="left:1621.58px;top:639.69px;font-size:18.2px;line-height:22px;font-weight:400;color:#64748b;letter-spacing:0.456px;-webkit-text-stroke:0.15px #64748b;">All dependencies are complete.</span>
<span class="t" style="left:1749.40px;top:685.81px;font-size:17.0px;line-height:20px;font-weight:700;color:#6341b4;letter-spacing:-0.190px;">Open</span>
<span class="t" style="left:1620.78px;top:774.62px;font-size:21px;line-height:25px;font-weight:400;color:#1a202c;letter-spacing:0.830px;-webkit-text-stroke:0.55px #1a202c;">Feature: Auth and first-day</span>
<span class="t" style="left:1621.78px;top:807.62px;font-size:21px;line-height:25px;font-weight:400;color:#1a202c;letter-spacing:0.391px;-webkit-text-stroke:0.55px #1a202c;">setup — Implement 4</span>
<span class="t" style="left:1620.78px;top:840.62px;font-size:21px;line-height:25px;font-weight:400;color:#1a202c;letter-spacing:0.679px;-webkit-text-stroke:0.55px #1a202c;">mapped screens with real</span>
<span class="t" style="left:1620.78px;top:873.62px;font-size:21px;line-height:25px;font-weight:400;color:#1a202c;letter-spacing:0.642px;-webkit-text-stroke:0.55px #1a202c;">interactions + Data +</span>
<span class="t" style="left:1620.78px;top:906.62px;font-size:21px;line-height:25px;font-weight:400;color:#1a202c;letter-spacing:1.100px;-webkit-text-stroke:0.55px #1a202c;">mutation wiring</span>
<span class="t" style="left:1921.20px;top:775.18px;font-size:16.8px;line-height:20px;font-weight:700;color:#166534;letter-spacing:-0.918px;">FEATURE</span>
<span class="t" style="left:1635.00px;top:951.41px;font-size:17px;line-height:20px;font-weight:700;color:#1a202c;letter-spacing:1.258px;">P0</span>
<span class="t" style="left:1698.30px;top:951.48px;font-size:16.8px;line-height:20px;font-weight:700;color:#8b2d12;letter-spacing:-0.261px;">DEPS: 2 MISSING</span>
<span class="t" style="left:1620.58px;top:990.09px;font-size:18.2px;line-height:22px;font-weight:400;color:#64748b;letter-spacing:0.552px;-webkit-text-stroke:0.15px #64748b;">Missing: auth_profile, supabase_setup</span>
<span class="t" style="left:1749.40px;top:1036.21px;font-size:17.0px;line-height:20px;font-weight:700;color:#6341b4;letter-spacing:-0.190px;">Open</span>
<span class="t" style="left:2113.57px;top:490.22px;font-size:21px;line-height:25px;font-weight:400;color:#1a202c;letter-spacing:0.600px;-webkit-text-stroke:0.55px #1a202c;max-width:85.0px;overflow:hidden;">Repo Integration</span>
<span class="t" style="left:2127.90px;top:535.01px;font-size:17px;line-height:20px;font-weight:700;color:#1a202c;letter-spacing:1.258px;max-width:70.4px;overflow:hidden;">P0</span>
<span class="t" style="left:2191.20px;top:535.08px;font-size:16.8px;line-height:20px;font-weight:700;color:#166534;letter-spacing:-0.857px;max-width:7.1px;overflow:hidden;">DEPS READY</span>
<span class="t" style="left:2114.37px;top:573.69px;font-size:18.2px;line-height:22px;font-weight:400;color:#64748b;letter-spacing:0.459px;-webkit-text-stroke:0.15px #64748b;max-width:85.0px;overflow:hidden;">All dependencies are complete.</span>
<span class="t" style="left:2242.20px;top:619.81px;font-size:17.0px;line-height:20px;font-weight:700;color:#6341b4;letter-spacing:-0.190px;max-width:-42.9px;overflow:hidden;">Open</span>
<span class="t" style="left:2114.57px;top:709.42px;font-size:21px;line-height:25px;font-weight:400;color:#1a202c;letter-spacing:0.600px;-webkit-text-stroke:0.55px #1a202c;max-width:85.0px;overflow:hidden;">Scaffold Project</span>
<span class="t" style="left:2127.90px;top:754.21px;font-size:17px;line-height:20px;font-weight:700;color:#1a202c;letter-spacing:1.258px;max-width:70.4px;overflow:hidden;">P0</span>
<span class="t" style="left:2191.20px;top:754.28px;font-size:16.8px;line-height:20px;font-weight:700;color:#166534;letter-spacing:-0.857px;max-width:7.1px;overflow:hidden;">DEPS READY</span>
<span class="t" style="left:2114.37px;top:792.89px;font-size:18.2px;line-height:22px;font-weight:400;color:#64748b;letter-spacing:0.459px;-webkit-text-stroke:0.15px #64748b;max-width:85.0px;overflow:hidden;">All dependencies are complete.</span>
<span class="t" style="left:2242.20px;top:839.01px;font-size:17.0px;line-height:20px;font-weight:700;color:#6341b4;letter-spacing:-0.190px;max-width:-42.9px;overflow:hidden;">Open</span>
<span class="t" style="left:2121.95px;top:1212.60px;font-size:20.5px;line-height:25px;font-weight:400;color:#6741b5;letter-spacing:0.110px;-webkit-text-stroke:0.5px #6741b5;">Help</span>
</div></body></html>
